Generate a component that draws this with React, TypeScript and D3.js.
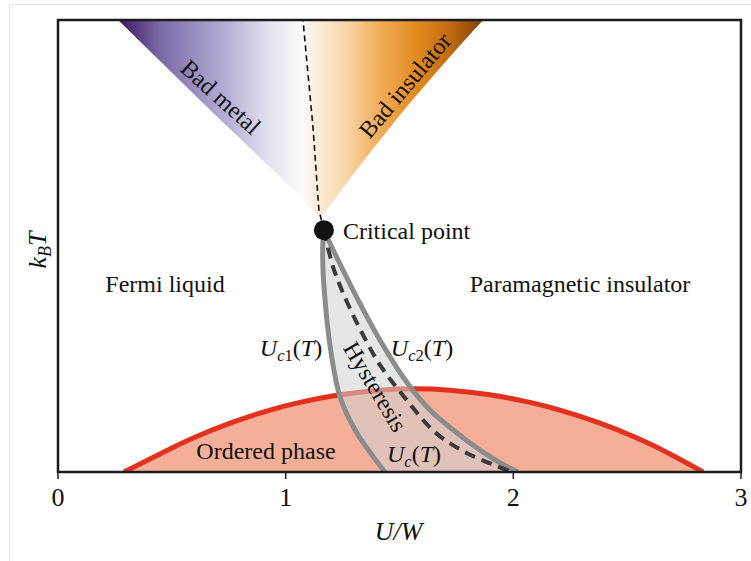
import React from 'react';
import * as d3 from 'd3';

const W = 751;
const H = 561;
const plot = { left: 58, right: 741, top: 20, bottom: 472 };

// axis
const xTicks = [0, 1, 2, 3];
const xDomain: [number, number] = [0, 3];
const yDomain: [number, number] = [0, 1];

// phase boundaries, in (U/W, k_B T) units
const criticalPoint: [number, number] = [1.168, 0.535];
const widomLine: [number, number][] = [[1.168, 0.535], [1.146, 0.58], [1.12, 0.763], [1.076, 1.0]];
const badMetalEdge: [number, number][] = [[0.264, 1.0], [0.668, 0.801], [1.05, 0.617], [1.155, 0.562]];
const badInsulatorEdge: [number, number][] = [
  [1.155, 0.562], [1.235, 0.617], [1.345, 0.69], [1.52, 0.801], [1.71, 0.912], [1.867, 1.0],
];
const uc1: [number, number][] = [
  [1.168, 0.535], [1.164, 0.513], [1.164, 0.447], [1.173, 0.381], [1.186, 0.314], [1.208, 0.237],
  [1.239, 0.166], [1.305, 0.093], [1.37, 0.044], [1.436, 0.0],
];
const uc2: [number, number][] = [
  [1.168, 0.535], [1.23, 0.469], [1.318, 0.381], [1.414, 0.292], [1.524, 0.204], [1.634, 0.137],
  [1.792, 0.071], [1.92, 0.027], [2.02, 0.0],
];
const ucLine: [number, number][] = [
  [1.168, 0.535], [1.208, 0.454], [1.265, 0.381], [1.335, 0.308], [1.414, 0.237], [1.524, 0.164],
  [1.656, 0.088], [1.788, 0.044], [1.928, 0.013], [1.994, 0.0],
];
const orderedDome: [number, number][] = [
  [0.29, 0.0], [0.448, 0.04], [0.589, 0.074], [0.756, 0.108], [0.931, 0.137], [1.063, 0.154],
  [1.239, 0.171], [1.414, 0.181], [1.568, 0.184], [1.722, 0.181], [1.897, 0.171], [2.073, 0.154],
  [2.205, 0.137], [2.381, 0.108], [2.548, 0.074], [2.688, 0.04], [2.833, 0.0],
];

// crossover colour ramp across U/W
const crossoverStops: [number, string][] = [
  [0.264, '#3a1566'], [0.45, '#7b6aa6'], [0.76, '#b9b4d7'], [0.92, '#e1e0ee'], [1.07, '#fbfafc'],
  [1.12, '#fdf1e2'], [1.28, '#f8d2a2'], [1.42, '#f1ab55'], [1.58, '#e08a20'], [1.72, '#c26a10'],
  [1.867, '#7e4206'],
];

const serif = "'Liberation Serif', 'Times New Roman', Times, serif";
const labelSize = 24;
const subSize = 16.5;

export default function App() {
  const x = d3.scaleLinear().domain(xDomain).range([plot.left, plot.right]);
  const y = d3.scaleLinear().domain(yDomain).range([plot.bottom, plot.top]);

  const lin = d3.line<[number, number]>().x((d) => x(d[0])).y((d) => y(d[1]));
  const smooth = d3
    .line<[number, number]>()
    .x((d) => x(d[0]))
    .y((d) => y(d[1]))
    .curve(d3.curveCatmullRom.alpha(0.5));

  const cont = (p: string | null) => (p ? 'L' + p.slice(1) : '');

  const wedgePath = (lin(badMetalEdge) || '') + cont(smooth(badInsulatorEdge)) + 'Z';
  const hystPath = (smooth(uc1) || '') + cont(smooth([...uc2].reverse())) + 'Z';
  const domePath = (smooth(orderedDome) || '') + 'Z';

  const cx = x(criticalPoint[0]);
  const cy = y(criticalPoint[1]);
  const txt = { fill: '#111', fontFamily: serif } as const;

  const ucLabel = (px: number, py: number, sub: string) => (
    <text x={px} y={py} textAnchor="middle" fontSize={labelSize} style={txt}>
      <tspan fontStyle="italic">U</tspan>
      <tspan fontSize={subSize} dy={5} fontStyle="italic">c</tspan>
      {sub ? <tspan fontSize={subSize}>{sub}</tspan> : null}
      <tspan dy={-5}>(</tspan>
      <tspan fontStyle="italic">T</tspan>
      <tspan>)</tspan>
    </text>
  );

  return (
    <svg
      width={W}
      height={H}
      viewBox={`0 0 ${W} ${H}`}
      style={{ position: 'absolute', left: 0, top: 0, background: '#fff', fontFamily: serif }}
    >
      <defs>
        <linearGradient
          id="crossover"
          gradientUnits="userSpaceOnUse"
          x1={x(crossoverStops[0][0])}
          x2={x(crossoverStops[crossoverStops.length - 1][0])}
          y1={0}
          y2={0}
        >
          {crossoverStops.map(([u, c], i) => (
            <stop
              key={i}
              offset={(u - crossoverStops[0][0]) / (crossoverStops[crossoverStops.length - 1][0] - crossoverStops[0][0])}
              stopColor={c}
            />
          ))}
        </linearGradient>
        <clipPath id="plotClip">
          <rect x={plot.left} y={plot.top} width={plot.right - plot.left} height={plot.bottom - plot.top} />
        </clipPath>
      </defs>

      <rect x={9.5} y={4.5} width={W + 20} height={H + 20} fill="none" stroke="#e2e2e2" strokeWidth={1} />

      <g clipPath="url(#plotClip)">
        <path d={wedgePath} fill="url(#crossover)" />
        <path d={lin(widomLine) || ''} fill="none" stroke="#111" strokeWidth={1.6} strokeDasharray="6 4" />

        <path d={domePath} fill="#f5ae97" />
        <path d={smooth(orderedDome) || ''} fill="none" stroke="#e2321f" strokeWidth={5} />

        <path d={hystPath} fill="#cfd3d3" fillOpacity={0.55} />
        <path d={smooth(uc1) || ''} fill="none" stroke="#8c8c8c" strokeWidth={5} />
        <path d={smooth(uc2) || ''} fill="none" stroke="#8c8c8c" strokeWidth={5} />
        <path d={smooth(ucLine) || ''} fill="none" stroke="#3a3a3a" strokeWidth={4} strokeDasharray="11 7" />
      </g>

      <rect
        x={plot.left}
        y={plot.top}
        width={plot.right - plot.left}
        height={plot.bottom - plot.top}
        fill="none"
        stroke="#1c1c1c"
        strokeWidth={2.5}
      />

      {xTicks.map((t) => (
        <g key={t} transform={`translate(${x(t)},${plot.bottom})`}>
          <line y1={0} y2={7} stroke="#1c1c1c" strokeWidth={1.5} />
          <text y={34} textAnchor="middle" fontSize={26} style={txt}>
            {t}
          </text>
        </g>
      ))}

      <text x={(plot.left + plot.right) / 2 - 1} y={540} textAnchor="middle" fontSize={26} fontStyle="italic" style={txt}>
        U/W
      </text>
      <text transform={`translate(46,250) rotate(-90)`} textAnchor="middle" fontSize={26} fontStyle="italic" style={txt}>
        k<tspan fontSize={18} dy={5}>B</tspan>
        <tspan dy={-5}>T</tspan>
      </text>

      <circle cx={cx} cy={cy} r={10} fill="#111" />
      <text x={cx + 19} y={cy + 9} fontSize={labelSize} style={txt}>
        Critical point
      </text>

      <text x={165} y={292} textAnchor="middle" fontSize={labelSize} style={txt}>
        Fermi liquid
      </text>
      <text x={580} y={292} textAnchor="middle" fontSize={labelSize} style={txt}>
        Paramagnetic insulator
      </text>
      <text x={266} y={459} textAnchor="middle" fontSize={labelSize} style={txt}>
        Ordered phase
      </text>

      <text transform="translate(219,99) rotate(42)" textAnchor="middle" dominantBaseline="middle" fontSize={labelSize} style={txt}>
        Bad metal
      </text>
      <text transform="translate(407,87) rotate(-50)" textAnchor="middle" dominantBaseline="middle" fontSize={labelSize} style={txt}>
        Bad insulator
      </text>
      <text transform="translate(373,388) rotate(59)" textAnchor="middle" dominantBaseline="middle" fontSize={labelSize} style={txt}>
        Hysteresis
      </text>

      {ucLabel(291, 356, '1')}
      {ucLabel(422, 356, '2')}
      {ucLabel(414, 462, '')}
    </svg>
  );
}
